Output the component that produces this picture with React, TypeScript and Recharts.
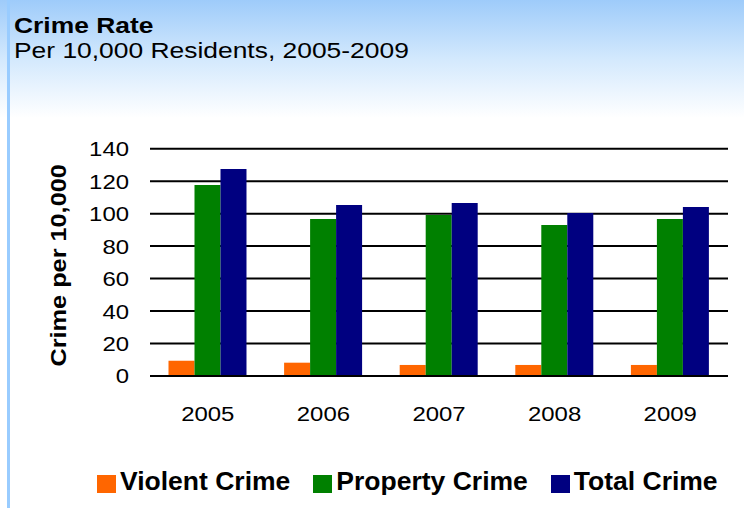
import { BarChart, Bar, XAxis, YAxis, CartesianGrid, Legend } from 'recharts'

const years = ['2005', '2006', '2007', '2008', '2009']
const violentCrime = [9.4, 8.2, 6.8, 6.8, 6.8]
const propertyCrime = [117.6, 96.7, 99.1, 93, 96.7]
const totalCrime = [127.5, 105.3, 106.5, 100.4, 104.1]
const yTicks = [0, 20, 40, 60, 80, 100, 120, 140]

const series = [
  { key: 'violent', name: 'Violent Crime', color: '#FF6600' },
  { key: 'property', name: 'Property Crime', color: '#008000' },
  { key: 'total', name: 'Total Crime', color: '#000080' },
]

const data = years.map((year, i) => ({
  year,
  violent: violentCrime[i],
  property: propertyCrime[i],
  total: totalCrime[i],
}))

const font = '"Liberation Sans", Arial, sans-serif'

// the source picture is stretched sideways, so the axis text gets a scaleX
function XTick({ x, y, payload }: any) {
  return (
    <g transform={`translate(${x},${y}) scale(1.14,1)`}>
      <text x={0} y={0} dy="0.71em" textAnchor="middle" fontFamily={font} fontSize={21} fill="#000">
        {payload.value}
      </text>
    </g>
  )
}

function YTick({ x, y, payload }: any) {
  return (
    <g transform={`translate(${x},${y}) scale(1.14,1)`}>
      <text x={0} y={0} dy="0.355em" textAnchor="end" fontFamily={font} fontSize={21} fill="#000">
        {payload.value}
      </text>
    </g>
  )
}

function YLabel({ viewBox }: any) {
  const cx = viewBox.x + 59
  const cy = viewBox.y + viewBox.height / 2 + 3
  return (
    <g transform={`translate(${cx},${cy}) rotate(-90) scale(1.15,1)`}>
      <text
        x={0}
        y={0}
        textAnchor="middle"
        dominantBaseline="central"
        fontFamily={font}
        fontSize={22}
        fontWeight={700}
        fill="#000"
      >
        Crime per 10,000
      </text>
    </g>
  )
}

// legend drawn in the original series order
function LegendContent() {
  return (
    <div style={{ display: 'flex', gap: 23, alignItems: 'center' }}>
      {series.map((s) => (
        <div key={s.key} style={{ display: 'flex', alignItems: 'center', gap: 4 }}>
          <span style={{ width: 19, height: 18, background: s.color, display: 'inline-block', marginTop: 6 }} />
          <span
            style={{
              fontFamily: font,
              fontSize: 26.5,
              fontWeight: 700,
              color: '#000',
              lineHeight: '30px',
              whiteSpace: 'nowrap',
            }}
          >
            {s.name}
          </span>
        </div>
      ))}
    </div>
  )
}

const titleStyle = {
  fontFamily: font,
  fontSize: 22,
  color: '#000',
  transform: 'scaleX(1.2)',
  transformOrigin: 'left',
  whiteSpace: 'nowrap' as const,
  lineHeight: '25px',
}

export default function App() {
  return (
    <div
      style={{
        position: 'absolute',
        left: 0,
        top: 0,
        width: 744,
        height: 508,
        background: 'linear-gradient(to bottom, #9ecbfa 0px, #d4e9fd 60px, #ffffff 118px)',
        overflow: 'hidden',
      }}
    >
      <div style={{ position: 'absolute', left: 7, top: 0, width: 3, height: 508, background: '#99ccff' }} />
      <div style={{ position: 'absolute', left: 14, top: 13 }}>
        <div style={{ ...titleStyle, fontWeight: 700 }}>Crime Rate</div>
        <div style={titleStyle}>Per 10,000 Residents, 2005-2009</div>
      </div>
      <div style={{ position: 'absolute', left: 0, top: 0 }}>
        <BarChart
          width={744}
          height={508}
          data={data}
          margin={{ top: 148.7, right: 16, bottom: 0, left: 0 }}
          barGap={0}
          barCategoryGap="16%"
        >
          <CartesianGrid vertical={false} stroke="#000" strokeWidth={2} />
          <XAxis
            dataKey="year"
            height={132}
            tick={<XTick />}
            tickLine={false}
            tickSize={0}
            tickMargin={30}
            axisLine={{ stroke: '#000', strokeWidth: 2 }}
          />
          <YAxis
            width={150}
            domain={[0, 140]}
            ticks={yTicks}
            interval={0}
            tick={<YTick />}
            tickLine={false}
            tickSize={0}
            tickMargin={21}
            axisLine={false}
            label={<YLabel />}
          />
          <Legend
            layout="horizontal"
            verticalAlign="middle"
            align="center"
            content={<LegendContent />}
            wrapperStyle={{ top: 466, left: 97, width: 'auto' }}
          />
          {series.map((s) => (
            <Bar key={s.key} dataKey={s.key} name={s.name} fill={s.color} isAnimationActive={false} />
          ))}
        </BarChart>
      </div>
    </div>
  )
}
